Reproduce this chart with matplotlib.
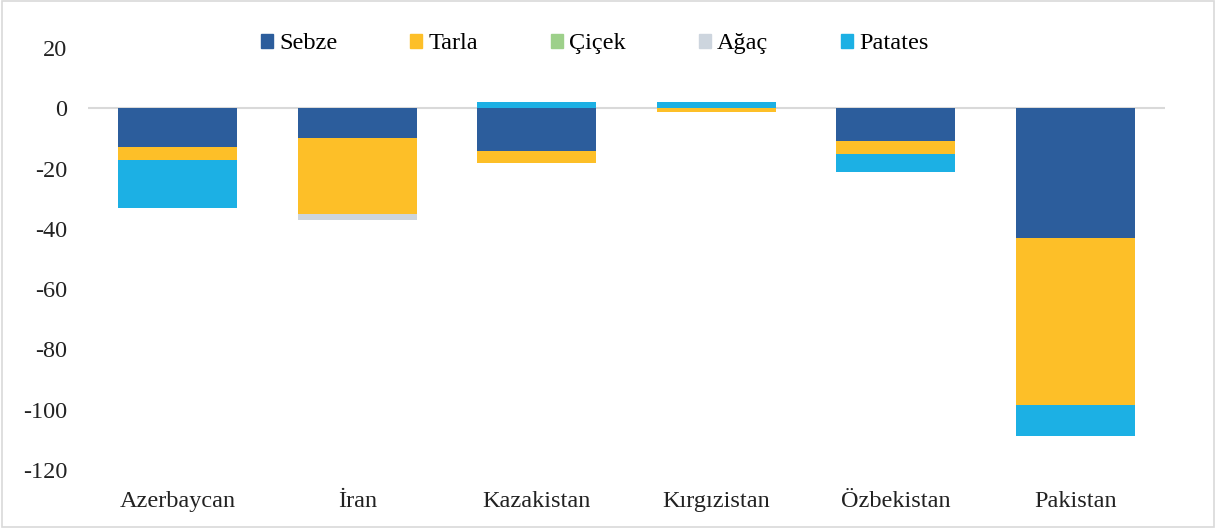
import matplotlib

matplotlib.use("Agg")
import matplotlib.pyplot as plt
import numpy as np
from matplotlib.patches import Rectangle


countries = ["Azerbaycan", "İran", "Kazakistan", "Kırgızistan", "Özbekistan", "Pakistan"]
series_names = ["Sebze", "Tarla", "Çiçek", "Ağaç", "Patates"]
sebze = [-13, -10, -14.3, 0, -11, -43]
tarla = [-4, -25.2, -4, -1.2, -4, -55.3]
cicek = [0, 0, 0, 0, 0, 0]
agac = [0, -1.7, 0, 0, 0, 0]
patates = [-16, 0, 2, 2, -6, -10.3]
series_colors = ["#2C5D9C", "#FDBF28", "#9DD08A", "#CDD5DE", "#1CB0E4"]

y_ticks = [20, 0, -20, -40, -60, -80, -100, -120]

plt.rcParams["font.family"] = ["Liberation Serif", "DejaVu Serif"]

fig = plt.figure(figsize=(12.16, 5.28), dpi=100)
ax = fig.add_axes([0.0724, 0.1098, 0.8856, 0.7993])

x = np.arange(len(countries))
pos_base = np.zeros(len(countries))
neg_base = np.zeros(len(countries))
handles = []
for name, values, color in zip(series_names, [sebze, tarla, cicek, agac, patates], series_colors):
    values = np.asarray(values, dtype=float)
    bottoms = np.where(values >= 0, pos_base, neg_base)
    ax.bar(x, values, bottom=bottoms, width=0.665, color=color, linewidth=0, zorder=3)
    pos_base = pos_base + np.where(values >= 0, values, 0)
    neg_base = neg_base + np.where(values < 0, values, 0)
    handles.append(Rectangle((0, 0), 1, 1, color=color))

ax.axhline(0, color="#D9D9D9", linewidth=1.5, zorder=2)
ax.set_xlim(-0.5, len(countries) - 0.5)
ax.set_ylim(-120, 20)
ax.set_yticks(y_ticks)
ax.set_yticklabels([str(v) for v in y_ticks])
ax.set_xticks(x)
ax.set_xticklabels(countries)
ax.tick_params(axis="both", length=0, labelsize=17.5, colors="#222222")
ax.tick_params(axis="y", pad=15)
ax.tick_params(axis="x", pad=15)
for spine in ax.spines.values():
    spine.set_visible(False)

fig.legend(
    handles,
    series_names,
    loc="center",
    bbox_to_anchor=(0.489, 0.917),
    ncol=5,
    frameon=False,
    fontsize=17.5,
    handlelength=0.5,
    handleheight=0.5,
    handletextpad=0.25,
    columnspacing=3.0,
)

fig.patches.append(
    Rectangle((0.002, 0.002), 0.996, 0.996, transform=fig.transFigure,
              fill=False, edgecolor="#D9D9D9", linewidth=1.2)
)

fig.savefig("out.png", dpi=100)
